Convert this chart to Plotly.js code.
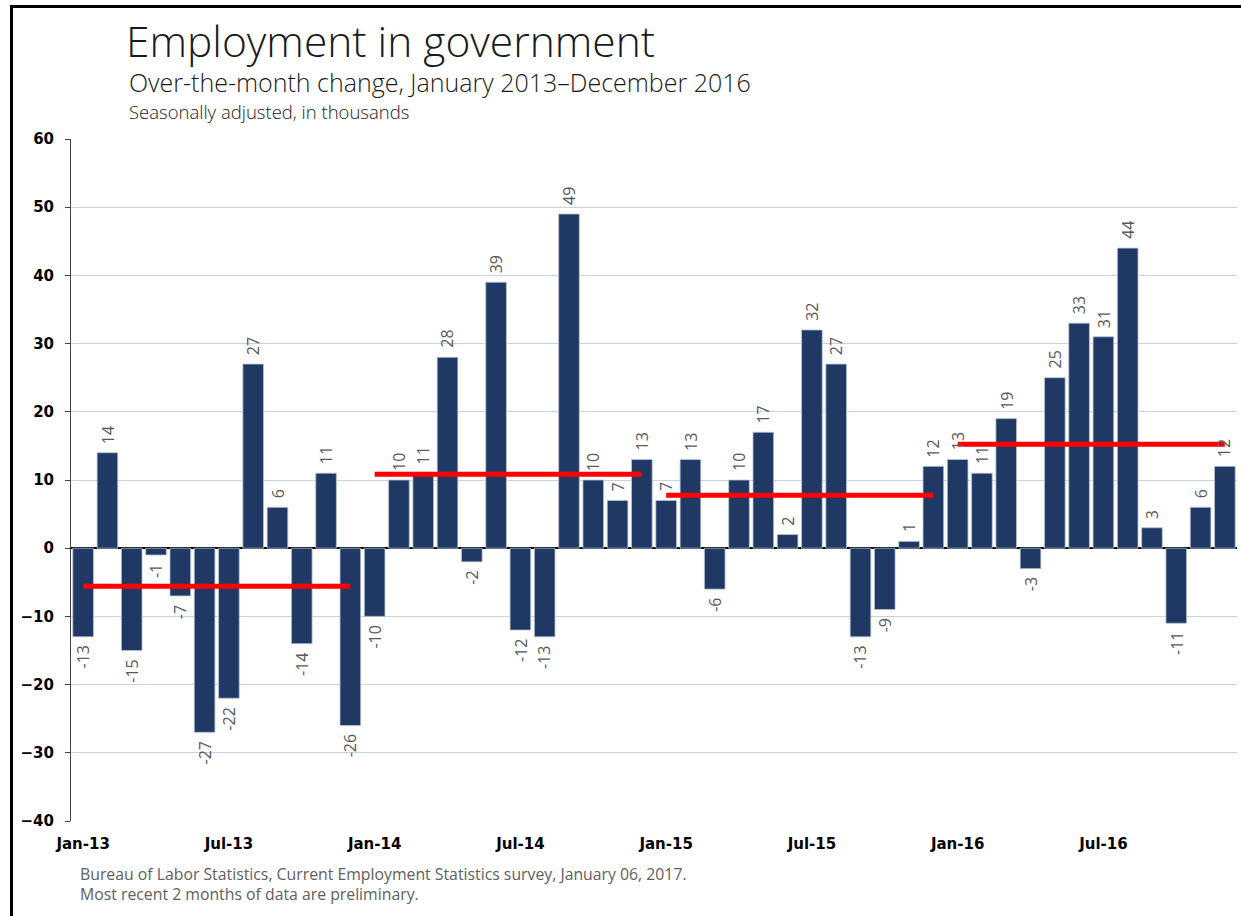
<!DOCTYPE html>
<html>
<head>
<meta charset="utf-8">
<script src="https://cdn.plot.ly/plotly-3.0.1.min.js"></script>
<style>
  html, body { margin: 0; padding: 0; background: #ffffff; }
  #wrap { position: relative; width: 1241px; height: 916px; overflow: hidden; }
  #chart { position: absolute; left: 0; top: 0; width: 1241px; height: 916px; }
  #frame { position: absolute; left: 10px; top: 5px; width: 1300px; height: 1000px;
           border-left: 3px solid #000; border-top: 3px solid #000; pointer-events: none; }
</style>
</head>
<body>
<div id="wrap">
  <div id="chart"></div>
  <div id="frame"></div>
</div>
<script>
// Monthly over-the-month change in government employment, thousands
const years = ['13', '14', '15', '16'];
const monthNames = ['Jan', 'Feb', 'Mar', 'Apr', 'May', 'Jun', 'Jul', 'Aug', 'Sep', 'Oct', 'Nov', 'Dec'];
const changes = [
  -13, 14, -15, -1, -7, -27, -22, 27, 6, -14, 11, -26,   // 2013
  -10, 10, 11, 28, -2, 39, -12, -13, 49, 10, 7, 13,      // 2014
  7, 13, -6, 10, 17, 2, 32, 27, -13, -9, 1, 12,          // 2015
  13, 11, 19, -3, 25, 33, 31, 44, 3, -11, 6, 12          // 2016
];
// Annual average monthly change (red reference lines)
const yearAverages = [-5.58, 10.83, 7.75, 15.25];
const tickLabels = ['Jan-13', 'Jul-13', 'Jan-14', 'Jul-14', 'Jan-15', 'Jul-15', 'Jan-16', 'Jul-16'];

const months = [];
years.forEach(y => monthNames.forEach(m => months.push(m + '-' + y)));

const barColor = '#203864';

const traces = [{
  type: 'bar',
  x: months,
  y: changes,
  marker: { color: barColor, line: { color: '#b8c3d6', width: 0.8 } },
  hoverinfo: 'x+y',
  showlegend: false
}];

years.forEach((y, i) => {
  traces.push({
    type: 'scatter',
    mode: 'lines',
    x: ['Jan-' + y, 'Dec-' + y],
    y: [yearAverages[i], yearAverages[i]],
    line: { color: '#ff0000', width: 5 },
    hoverinfo: 'y',
    showlegend: false
  });
});

// Rotated value labels above positive bars and below negative ones
const labelFont = { family: 'Open Sans, Liberation Sans, sans-serif', size: 16, color: '#595959' };
const annotations = changes.map((v, i) => ({
  x: months[i],
  y: v,
  xref: 'x', yref: 'y',
  text: String(v),
  showarrow: false,
  textangle: -90,
  xanchor: 'center',
  yanchor: v >= 0 ? 'bottom' : 'top',
  yshift: v >= 0 ? 7 : -7,
  font: labelFont
}));

const textFont = 'Open Sans, Lato, sans-serif';
annotations.push(
  { xref: 'paper', yref: 'paper', x: 0.048, y: 1.0836, xanchor: 'left', yanchor: 'middle',
    text: 'Over-the-month change, January 2013\u2013December 2016', showarrow: false,
    font: { family: textFont, size: 25, color: '#1a1a1a', weight: 300 } },
  { xref: 'paper', yref: 'paper', x: 0.048, y: 1.041, xanchor: 'left', yanchor: 'middle',
    text: 'Seasonally adjusted, in thousands', showarrow: false,
    font: { family: textFont, size: 18.5, color: '#1a1a1a', weight: 300 } },
  { xref: 'paper', yref: 'paper', x: 0.006, y: -0.078, xanchor: 'left', yanchor: 'middle',
    text: 'Bureau of Labor Statistics, Current Employment Statistics survey, January 06, 2017.', showarrow: false,
    font: { family: textFont, size: 15.8, color: '#606060' } },
  { xref: 'paper', yref: 'paper', x: 0.006, y: -0.107, xanchor: 'left', yanchor: 'middle',
    text: 'Most recent 2 months of data are preliminary.', showarrow: false,
    font: { family: textFont, size: 15.8, color: '#606060' } }
);

const layout = {
  width: 1241,
  height: 916,
  margin: { l: 71, r: 4, t: 139, b: 95 },
  paper_bgcolor: '#ffffff',
  plot_bgcolor: '#ffffff',
  bargap: 0.15,
  title: {
    text: 'Employment in government',
    x: 126 / 1241, xref: 'container', xanchor: 'left',
    y: 1 - 42 / 916, yref: 'container', yanchor: 'middle',
    font: { family: textFont, size: 42.5, color: '#1a1a1a', weight: 300 }
  },
  xaxis: {
    type: 'category',
    categoryorder: 'array',
    categoryarray: months,
    range: [-0.5, 47.5],
    tickvals: tickLabels,
    ticktext: tickLabels,
    ticks: '',
    showgrid: false,
    showline: false,
    zeroline: false,
    ticklabelstandoff: 12,
    tickangle: 0,
    tickfont: { family: 'DejaVu Sans, Verdana, sans-serif', size: 15, color: '#000000', weight: 'bold' }
  },
  yaxis: {
    range: [-40, 60],
    dtick: 10,
    tick0: 0,
    showgrid: true,
    gridcolor: '#c5d3ea',
    gridwidth: 1,
    zeroline: true,
    zerolinecolor: '#000000',
    zerolinewidth: 1.5,
    showline: true,
    linecolor: '#404040',
    linewidth: 1,
    ticks: 'outside',
    ticklen: 5,
    tickcolor: '#404040',
    ticklabelstandoff: 8,
    tickfont: { family: 'DejaVu Sans, Verdana, sans-serif', size: 15, color: '#000000', weight: 'bold' }
  },
  annotations: annotations,
  showlegend: false
};

Plotly.newPlot('chart', traces, layout, { displayModeBar: false, responsive: false });
</script>
</body>
</html>
